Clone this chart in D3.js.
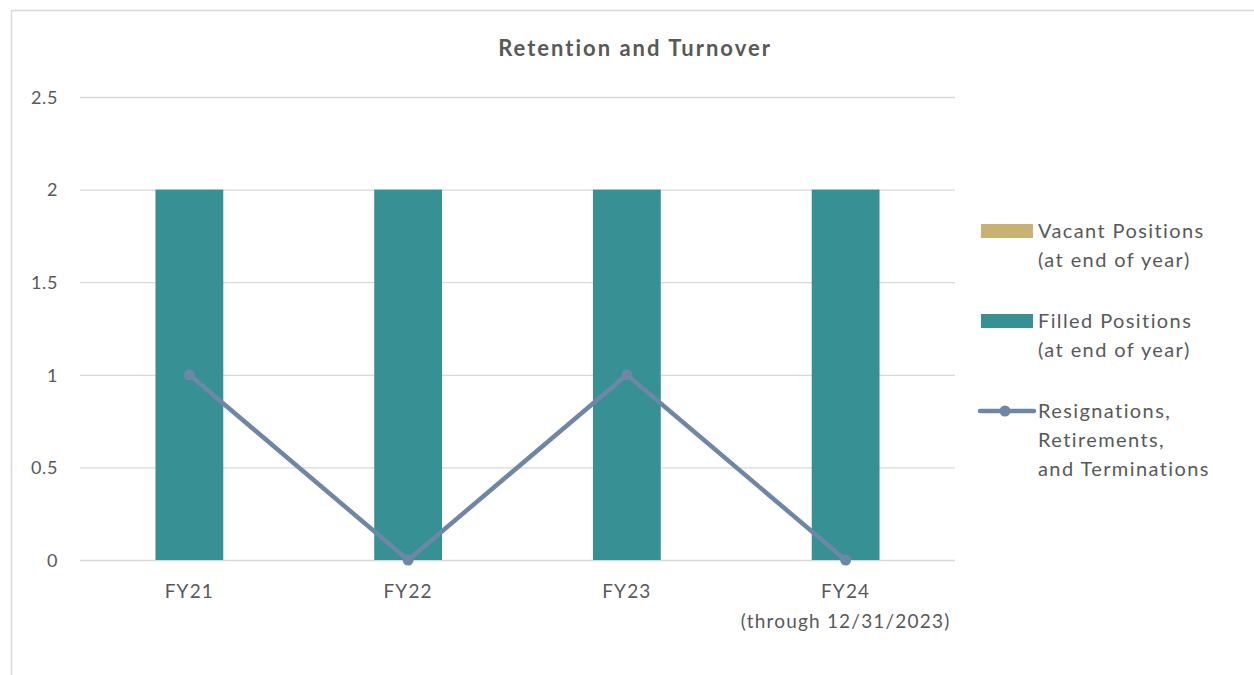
<!DOCTYPE html>
<html>
<head>
<meta charset="utf-8">
<script src="https://cdn.jsdelivr.net/npm/d3@7"></script>
<style>
  body { margin: 0; background: #fff; }
  text { font-family: Lato, "Open Sans", sans-serif; fill: #595959; }
</style>
</head>
<body>
<div id="vis"></div>
<script>
const categories = ['FY21', 'FY22', 'FY23', 'FY24']
const categorySubLabels = ['', '', '', '(through 12/31/2023)']
const vacant = [0, 0, 0, 0]
const filled = [2, 2, 2, 2]
const turnover = [1, 0, 1, 0]
const yTicks = [0, 0.5, 1, 1.5, 2, 2.5]

const W = 1254, H = 675
const plot = { left: 80, right: 955, top: 97, bottom: 560 }

const colors = { vacant: '#c8b273', filled: '#379094', line: '#6f87a6' }

const svg = d3.select('#vis')
    .append('svg')
    .attr('width', W)
    .attr('height', H)

// chart frame
svg.append('rect')
    .attr('x', 11.5).attr('y', 10.5)
    .attr('width', W).attr('height', H)
    .style('fill', 'none')
    .style('stroke', '#d9d9d9')
    .style('stroke-width', 1.5)

const xScale = d3.scaleBand()
    .domain(categories)
    .range([plot.left, plot.right])
    .paddingInner(0.69)
    .paddingOuter(0.345)

const xCenter = d3.scalePoint()
    .domain(categories)
    .range([plot.left, plot.right])
    .padding(0.5)

const yScale = d3.scaleLinear()
    .domain([0, 2.5])
    .range([plot.bottom, plot.top])

// grid
const yGrid = d3.axisLeft(yScale)
    .tickValues(yTicks)
    .tickSize(-(plot.right - plot.left))
    .tickFormat(d => d)

const g = svg.append('g')
    .attr('transform', `translate(${plot.left},0)`)
    .call(yGrid)
g.select('.domain').remove()
g.selectAll('line').style('stroke', '#d9d9d9').style('stroke-width', 1.3)
g.selectAll('text')
    .attr('x', -22)
    .attr('dy', '0.35em')
    .style('font-size', '18px')
    .style('letter-spacing', '0.6px')
    .style('fill', '#595959')

// bars (stacked: filled then vacant on top)
svg.selectAll('.filled')
    .data(categories)
    .enter()
    .append('rect')
    .attr('class', 'filled')
    .attr('x', d => xScale(d))
    .attr('width', xScale.bandwidth())
    .attr('y', (d, i) => yScale(filled[i]))
    .attr('height', (d, i) => yScale(0) - yScale(filled[i]))
    .style('fill', colors.filled)

svg.selectAll('.vacant')
    .data(categories)
    .enter()
    .append('rect')
    .attr('class', 'vacant')
    .attr('x', d => xScale(d))
    .attr('width', xScale.bandwidth())
    .attr('y', (d, i) => yScale(filled[i] + vacant[i]))
    .attr('height', (d, i) => yScale(filled[i]) - yScale(filled[i] + vacant[i]))
    .style('fill', colors.vacant)

// line
const line = d3.line()
    .x((d, i) => xCenter(categories[i]))
    .y(d => yScale(d))

svg.append('path')
    .datum(turnover)
    .attr('d', line)
    .style('fill', 'none')
    .style('stroke', colors.line)
    .style('stroke-width', 4.5)
    .style('stroke-linejoin', 'round')

svg.selectAll('.pt')
    .data(turnover)
    .enter()
    .append('circle')
    .attr('class', 'pt')
    .attr('cx', (d, i) => xCenter(categories[i]))
    .attr('cy', d => yScale(d))
    .attr('r', 5.5)
    .style('fill', colors.line)

// x labels
svg.selectAll('.xlab')
    .data(categories)
    .enter()
    .append('text')
    .attr('class', 'xlab')
    .attr('x', d => xCenter(d))
    .attr('y', plot.bottom + 38)
    .style('text-anchor', 'middle')
    .style('font-size', '19px')
    .style('letter-spacing', '1.2px')
    .text(d => d)

svg.selectAll('.xsub')
    .data(categories)
    .enter()
    .append('text')
    .attr('class', 'xsub')
    .attr('x', d => xCenter(d))
    .attr('y', plot.bottom + 68)
    .style('text-anchor', 'middle')
    .style('font-size', '19px')
    .style('letter-spacing', '1.2px')
    .text((d, i) => categorySubLabels[i])

// title
svg.append('text')
    .attr('x', 635)
    .attr('y', 56)
    .style('text-anchor', 'middle')
    .style('font-size', '22px')
    .style('font-weight', 'bold')
    .style('letter-spacing', '2px')
    .text('Retention and Turnover')

// legend
const legendItems = [
    { type: 'rect', color: colors.vacant, lines: ['Vacant Positions', '(at end of year)'], y: 231 },
    { type: 'rect', color: colors.filled, lines: ['Filled Positions', '(at end of year)'], y: 321 },
    { type: 'line', color: colors.line, lines: ['Resignations,', 'Retirements,', 'and Terminations'], y: 411 }
]

legendItems.forEach(item => {
    if (item.type === 'rect') {
        svg.append('rect')
            .attr('x', 981).attr('y', item.y - 7)
            .attr('width', 52).attr('height', 14)
            .style('fill', item.color)
    } else {
        svg.append('line')
            .attr('x1', 980).attr('x2', 1034)
            .attr('y1', item.y).attr('y2', item.y)
            .style('stroke', item.color)
            .style('stroke-width', 4.5)
            .style('stroke-linecap', 'round')
        svg.append('circle')
            .attr('cx', 1005).attr('cy', item.y).attr('r', 5.5)
            .style('fill', item.color)
    }
    svg.append('text')
        .attr('x', 1038)
        .attr('y', item.y + 7)
        .style('font-size', '20px')
        .style('letter-spacing', '1.4px')
        .selectAll('tspan')
        .data(item.lines)
        .enter()
        .append('tspan')
        .attr('x', 1038)
        .attr('dy', (d, i) => i === 0 ? 0 : 29)
        .text(d => d)
})
</script>
</body>
</html>
